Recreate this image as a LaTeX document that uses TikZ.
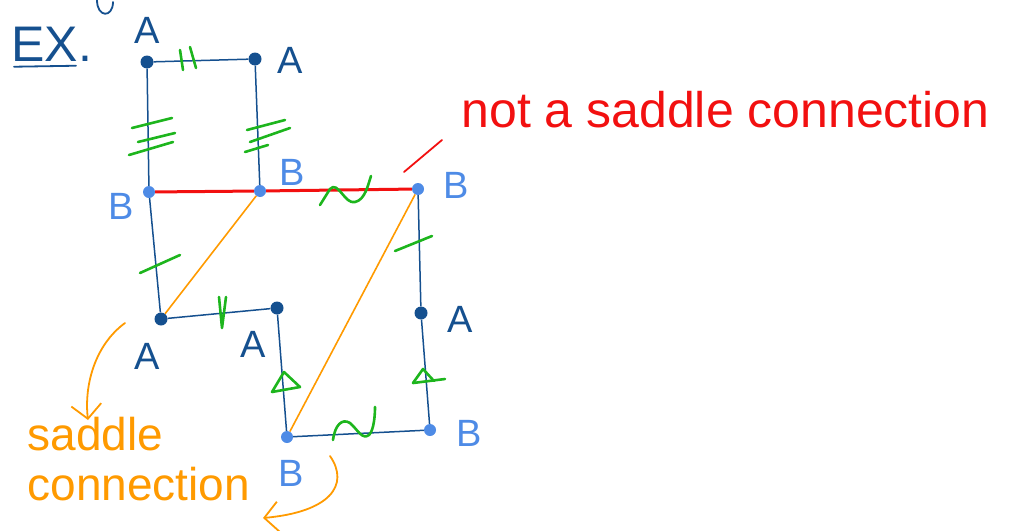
\documentclass[tikz,border=0pt]{standalone}
\usepackage{fontspec}
\setmainfont{Liberation Sans}
\usetikzlibrary{arrows.meta}
\definecolor{darkblue}{RGB}{21,80,143}
\definecolor{lightblue}{RGB}{78,139,230}
\definecolor{markgreen}{RGB}{29,181,29}
\definecolor{cutred}{RGB}{242,16,16}
\definecolor{linkorange}{RGB}{255,154,0}

\begin{document}
\begin{tikzpicture}[x=1pt, y=-1pt,
  adot/.style={circle, fill=darkblue, inner sep=0pt, minimum size=13pt},
  bdot/.style={circle, fill=lightblue, inner sep=0pt, minimum size=12pt},
  edge/.style={draw=darkblue, line width=1.5pt},
  cut/.style={draw=cutred, line width=3pt},
  link/.style={draw=linkorange, line width=1.6pt},
  tick/.style={draw=markgreen, line width=2.6pt, line cap=round, line join=round},
  alab/.style={text=darkblue, font=\fontsize{38}{40}\selectfont},
  blab/.style={text=lightblue, font=\fontsize{38}{40}\selectfont},
  pointer/.style={line width=1.8pt, line cap=round, -{Straight Barb[length=14pt, width=30pt]}}]
\useasboundingbox (0,0) rectangle (1014,530);

% title
\node[text=darkblue, font=\fontsize{50}{54}\selectfont, anchor=west] (ex) at (8,44) {EX.};
\draw[darkblue, line width=1.8pt, line cap=round] (ex.south west) ++(6,2) coordinate (ul1) -- ++(62,-1) coordinate (ul2);
\draw[darkblue, line width=1.8pt, line cap=round] (97,0) .. controls (97,18) and (113,18) .. (113,2);

% vertices
\node[adot] (a1) at (147,62) {};
\node[adot] (a2) at (255,59) {};
\node[bdot] (b1) at (149,192) {};
\node[bdot] (b2) at (260,191) {};
\node[bdot] (b3) at (418,189) {};
\node[adot] (a3) at (161,319) {};
\node[adot] (a4) at (277,308) {};
\node[adot] (a5) at (421,313) {};
\node[bdot] (b4) at (287,437) {};
\node[bdot] (b5) at (430,430) {};

% polygon edges
\draw[edge] (a1) -- (a2);
\draw[edge] (a1) -- (b1);
\draw[edge] (a2) -- (b2);
\draw[edge] (b1) -- (a3);
\draw[edge] (a3) -- (a4);
\draw[edge] (a4) -- (b4);
\draw[edge] (b4) -- (b5);
\draw[edge] (b5) -- (a5);
\draw[edge] (a5) -- (b3);

% connections
\draw[cut] (b1) -- (b2) -- (b3);
\draw[link] (b2) -- (a3);
\draw[link] (b3) -- (b4);

% edge marks
\draw[tick] (180,50) -- (183,70);
\draw[tick] (190,47) -- (196,68);
\draw[tick] (132,128) -- (172,118);
\draw[tick] (138,142) -- (175,133);
\draw[tick] (129,155) -- (173,142);
\draw[tick] (247,130) -- (285,120);
\draw[tick] (250,142) -- (290,128);
\draw[tick] (245,152) -- (268,145);
\draw[tick] (140,273) -- (180,255);
\draw[tick] (395,251) -- (432,236);
\draw[tick] (219,297) -- (222,328) -- (226,297);
\draw[tick] (320,205) -- (330,189) .. controls (338,180) and (345,205) .. (355,202) .. controls (365,200) and (368,185) .. (371,176);
\draw[tick] (333,440) .. controls (335,425) and (342,418) .. (350,423) .. controls (358,430) and (362,440) .. (369,435) .. controls (374,430) and (375,415) .. (375,407);
\draw[tick] (272,392) -- (284,372) -- (300,387) -- cycle;
\draw[tick] (413,383) -- (423,369) -- (434,381);
\draw[tick] (413,383) -- (445,379);

% vertex labels
\node[alab] (la1) at (147,30) {A};
\node[alab] (la2) at (290,60) {A};
\node[blab] (lb1) at (121,206) {B};
\node[blab] (lb2) at (292,172) {B};
\node[blab] (lb3) at (456,185) {B};
\node[alab] (la3) at (147,356) {A};
\node[alab] (la4) at (253,344) {A};
\node[alab] (la5) at (460,319) {A};
\node[blab] (lb4) at (291,473) {B};
\node[blab] (lb5) at (469,433) {B};

% notes
\node[text=cutred, font=\fontsize{50}{54}\selectfont, anchor=west] (nottext) at (458,110) {not a saddle connection};
\coordinate (r1) at (404,172);
\coordinate (r2) at (442,140);
\draw[cutred, line width=1.8pt, line cap=round] (r1) -- (r2);

\node[text=linkorange, font=\fontsize{46}{50}\selectfont, align=left, anchor=north west] (sadtext) at (24,414) {saddle\\connection};
\coordinate (s1) at (125,323);
\coordinate (s2) at (88,420);
\draw[linkorange, pointer] (s1) .. controls (95,345) and (84,385) .. (s2);
\coordinate (s3) at (330,456);
\coordinate (s4) at (263,518);
\draw[linkorange, pointer] (s3) .. controls (350,485) and (330,512) .. (s4);
\end{tikzpicture}
\end{document}
